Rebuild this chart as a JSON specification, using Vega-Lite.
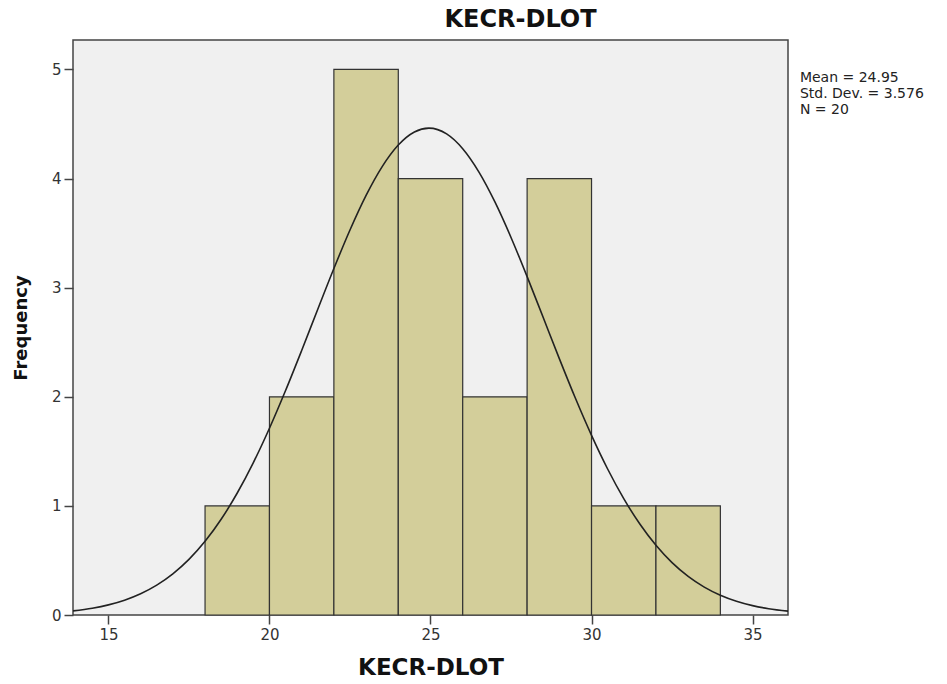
{
  "$schema": "https://vega.github.io/schema/vega-lite/v6.json",
  "width": 715,
  "height": 575,
  "autosize": {"type": "none"},
  "padding": {"left": 73, "top": 40, "right": 159, "bottom": 69},
  "background": "white",
  "title": {"text": "KECR-DLOT", "fontSize": 24, "font": "DejaVu Sans", "fontWeight": "bold", "color": "#111", "anchor": "middle", "dx": 90, "offset": 8},
  "config": {
    "view": {"fill": "#f0f0f0", "stroke": "#444", "strokeWidth": 1.5},
    "axis": {"grid": false, "domain": false, "labelFont": "DejaVu Sans", "labelFontSize": 15, "labelColor": "#333", "tickColor": "#444", "tickSize": 9, "tickWidth": 1.5, "titleFont": "DejaVu Sans", "titleFontWeight": "bold", "titleColor": "#111"}
  },
  "datasets": {
    "bins": [
      {"lo": 18, "hi": 20, "count": 1},
      {"lo": 20, "hi": 22, "count": 2},
      {"lo": 22, "hi": 24, "count": 5},
      {"lo": 24, "hi": 26, "count": 4},
      {"lo": 26, "hi": 28, "count": 2},
      {"lo": 28, "hi": 30, "count": 4},
      {"lo": 30, "hi": 32, "count": 1},
      {"lo": 32, "hi": 34, "count": 1}
    ],
    "curve": [
      {"v": 13.9, "f": 0.0377}, {"v": 14.5, "f": 0.0624}, {"v": 15, "f": 0.093}, {"v": 15.5, "f": 0.1359},
      {"v": 16, "f": 0.1947}, {"v": 16.5, "f": 0.2736}, {"v": 17, "f": 0.377}, {"v": 17.5, "f": 0.5095},
      {"v": 18, "f": 0.6752}, {"v": 18.5, "f": 0.8772}, {"v": 19, "f": 1.118}, {"v": 19.5, "f": 1.397},
      {"v": 20, "f": 1.7119}, {"v": 20.5, "f": 2.0573}, {"v": 21, "f": 2.4244}, {"v": 21.5, "f": 2.802},
      {"v": 22, "f": 3.1755}, {"v": 22.5, "f": 3.5287}, {"v": 23, "f": 3.8459}, {"v": 23.5, "f": 4.11},
      {"v": 24, "f": 4.3077}, {"v": 24.5, "f": 4.4273}, {"v": 24.95, "f": 4.462}, {"v": 25.5, "f": 4.4095},
      {"v": 26, "f": 4.2738}, {"v": 26.5, "f": 4.0619}, {"v": 27, "f": 3.7859}, {"v": 27.5, "f": 3.4604},
      {"v": 28, "f": 3.1014}, {"v": 28.5, "f": 2.726}, {"v": 29, "f": 2.3497}, {"v": 29.5, "f": 1.986},
      {"v": 30, "f": 1.6462}, {"v": 30.5, "f": 1.3381}, {"v": 31, "f": 1.0665}, {"v": 31.5, "f": 0.8338},
      {"v": 32, "f": 0.6391}, {"v": 32.5, "f": 0.4804}, {"v": 33, "f": 0.3541}, {"v": 33.5, "f": 0.256},
      {"v": 34, "f": 0.1815}, {"v": 34.5, "f": 0.1261}, {"v": 35, "f": 0.086}, {"v": 35.5, "f": 0.0575},
      {"v": 36.1, "f": 0.0353}
    ],
    "stats": [{"label": ["Mean = 24.95", "Std. Dev. = 3.576", "N = 20"]}]
  },
  "layer": [
    {
      "data": {"name": "bins"},
      "mark": {"type": "rect", "fill": "#d3ce9a", "stroke": "#333", "strokeWidth": 1.2},
      "encoding": {
        "x": {"field": "lo", "type": "quantitative", "scale": {"domain": [13.9, 36.1], "nice": false, "zero": false}, "axis": {"values": [15, 20, 25, 30, 35], "title": "KECR-DLOT", "titleFontSize": 23, "titlePadding": 14, "labelPadding": 3}},
        "x2": {"field": "hi"},
        "y": {"field": "count", "type": "quantitative", "scale": {"domain": [0, 5.27], "nice": false}, "axis": {"values": [0, 1, 2, 3, 4, 5], "format": "d", "title": "Frequency", "titleFontSize": 18, "titlePadding": 21, "labelPadding": 3}},
        "y2": {"datum": 0}
      }
    },
    {
      "data": {"name": "curve"},
      "mark": {"type": "line", "color": "#222", "strokeWidth": 1.6, "interpolate": "monotone", "clip": true},
      "encoding": {
        "x": {"field": "v", "type": "quantitative"},
        "y": {"field": "f", "type": "quantitative"}
      }
    },
    {
      "data": {"name": "stats"},
      "mark": {"type": "text", "align": "left", "baseline": "top", "font": "DejaVu Sans", "fontSize": 14, "lineHeight": 16, "color": "#222"},
      "encoding": {
        "x": {"datum": 36.47},
        "y": {"datum": 4.99},
        "text": {"field": "label"}
      }
    }
  ]
}
